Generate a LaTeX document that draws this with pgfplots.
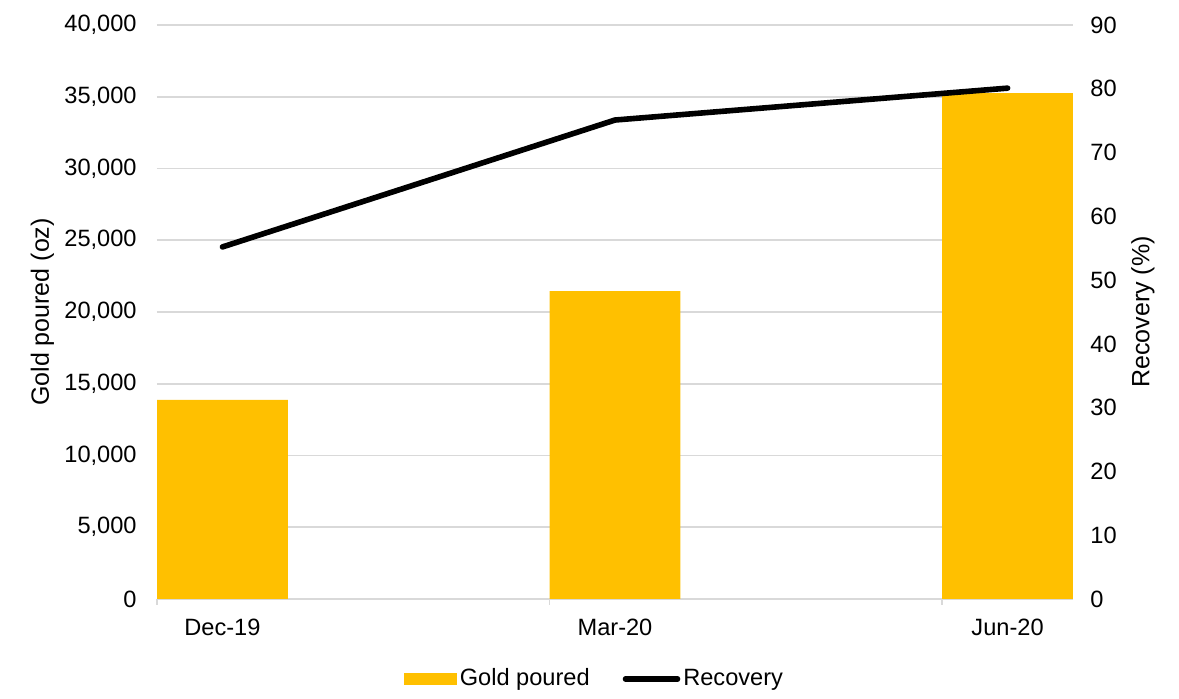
\documentclass[border=0pt]{standalone}
\usepackage{pgfplots}
\pgfplotsset{compat=1.18}
\usepackage{fontspec}
\setmainfont{Liberation Sans}
\definecolor{gold}{HTML}{FFC000}
\definecolor{gridgray}{HTML}{D9D9D9}
\begin{document}
\fontsize{11.8}{14}\selectfont
\begin{tikzpicture}
\path[use as bounding box] (-78.5pt,-50pt) rectangle (511pt,299.5pt);
\begin{axis}[
  scale only axis, width=458pt, height=287pt,
  at={(0,0)}, anchor=south west,
  xmin=-0.5, xmax=6.5, ymin=0, ymax=40000,
  axis x line=bottom, axis y line=left,
  x axis line style={draw=gridgray, line width=0.8pt, -},
  y axis line style={draw=none},
  xtick={0,3,6}, xticklabels={Dec-19,Mar-20,Jun-20},
  major tick length=0pt,
  x tick label style={inner sep=0pt, anchor=north, yshift=-10pt},
  extra x ticks={-0.5,2.5,5.5}, extra x tick labels={},
  extra x tick style={major tick length=3pt, tick align=outside, tick style={draw=gridgray, line width=0.8pt}, grid=none},
  ytick={0,5000,...,40000},
  scaled y ticks=false,
  y tick label style={inner sep=0pt, anchor=east, xshift=-10pt},
  /pgf/number format/.cd, 1000 sep={,}, assume math mode=true, /pgfplots/.cd,
  ymajorgrids, grid style={draw=gridgray, line width=0.8pt},
  ylabel={Gold poured (oz)},
  ylabel style={at={(axis description cs:-0.125,0.5)}, anchor=center, inner sep=0pt, font=\fontsize{12.5}{15}\selectfont},
  ybar, bar width=65.4pt,
  axis on top=false,
]
\addplot[fill=gold, draw=none] coordinates {(0,13870) (3,21460) (6,35260)};
\end{axis}
\begin{axis}[
  scale only axis, width=458pt, height=287pt,
  at={(0,0)}, anchor=south west,
  xmin=-0.5, xmax=6.5, ymin=0, ymax=90,
  axis x line=none,
  axis y line=right,
  y axis line style={draw=none},
  ytick={0,10,...,90},
  major tick length=0pt,
  y tick label style={inner sep=0pt, anchor=west, xshift=8.5pt},
  /pgf/number format/assume math mode=true,
  ylabel={Recovery (\%)},
  ylabel style={at={(axis description cs:1.0764,0.5)}, anchor=center, inner sep=0pt, font=\fontsize{12.5}{15}\selectfont},
  legend style={at={(axis description cs:0.4782,-0.1394)}, anchor=center, draw=none, fill=none,
    legend columns=2, inner sep=0pt,
    /tikz/every even column/.append style={column sep=15pt},
    nodes={inner sep=1.5pt, anchor=west}},
]
\addlegendimage{legend image code/.code={\fill[gold] (0pt,-2.75pt) rectangle (26pt,2.75pt);}}
\addlegendentry{Gold poured}
\addplot[black, line width=2.8pt, line cap=round, mark=none,
  legend image code/.code={\draw[black, line width=2.8pt, line cap=round] (0pt,0pt) -- (26pt,0pt);}]
  coordinates {(0,55.2) (3,75.1) (6,80.1)};
\addlegendentry{Recovery}
\end{axis}
\end{tikzpicture}
\end{document}
